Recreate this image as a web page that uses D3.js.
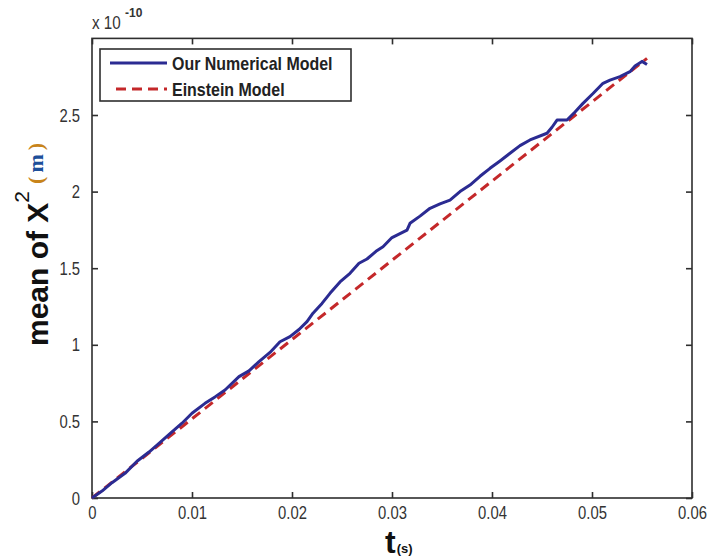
<!DOCTYPE html>
<html><head><meta charset="utf-8">
<script src="https://cdn.jsdelivr.net/npm/d3@7"></script>
<style>body{margin:0;background:#fff}svg{display:block}text{font-family:"Liberation Sans",Arial,sans-serif}</style>
</head><body>
<svg id="c" width="708" height="559"></svg>
<script>
// ---- data (y in units of 1e-10 m^2) ----
const numT = [0,0.0010,0.0020,0.0033,0.0045,0.0057,0.0067,0.0078,0.0090,0.0100,0.0113,0.0123,0.0133,0.0147,0.0157,0.0167,0.0178,0.0188,0.0198,0.0207,0.0215,0.0221,0.0230,0.0238,0.0248,0.0258,0.0267,0.0275,0.0284,0.0291,0.0300,0.0315,0.0318,0.0328,0.0338,0.0348,0.0358,0.0368,0.0378,0.0388,0.0398,0.0408,0.0418,0.0428,0.0438,0.0455,0.0460,0.0465,0.0475,0.0483,0.0491,0.0501,0.0511,0.0518,0.0528,0.0538,0.0543,0.0550,0.0555];
const numY = [0,0.045,0.10,0.161,0.24,0.30,0.357,0.42,0.488,0.553,0.618,0.66,0.705,0.792,0.83,0.890,0.95,1.020,1.053,1.10,1.151,1.206,1.27,1.336,1.41,1.467,1.532,1.56,1.61,1.64,1.70,1.749,1.793,1.84,1.891,1.92,1.945,2.00,2.043,2.10,2.152,2.20,2.250,2.30,2.337,2.381,2.42,2.467,2.467,2.52,2.576,2.64,2.707,2.728,2.750,2.783,2.82,2.85,2.83];
const einT = [0, 0.0555];
const einY = [0, 2.87];
const xTicks = [0,0.01,0.02,0.03,0.04,0.05,0.06];
const xTickLabels = ["0","0.01","0.02","0.03","0.04","0.05","0.06"];
const yTicks = [0,0.5,1,1.5,2,2.5];
const yTickLabels = ["0","0.5","1","1.5","2","2.5"];
const seriesNames = ["Our Numerical Model","Einstein Model"];
const seriesColors = ["#2b2b92","#c4282a"];

const svg = d3.select("#c");
const L=92, R=692, T=38.4, B=498;
const x = d3.scaleLinear().domain([0,0.06]).range([L,R]);
const y = d3.scaleLinear().domain([0,3]).range([B,T]);
const axisCol = "#2e2e2e";

function squeeze(sel, f){ sel.each(function(){ const w=this.getComputedTextLength(); d3.select(this).attr("textLength", w*f).attr("lengthAdjust","spacingAndGlyphs"); }); }

// frame
svg.append("rect").attr("x",L).attr("y",T).attr("width",R-L).attr("height",B-T)
  .attr("fill","none").attr("stroke",axisCol).attr("stroke-width",1.6);

// axes via d3 (ticks inward)
const xa = svg.append("g").attr("transform",`translate(0,${B})`)
  .call(d3.axisBottom(x).tickValues(xTicks).tickFormat((d,i)=>xTickLabels[i]).tickSizeInner(-6).tickSizeOuter(0).tickPadding(8));
const xt = svg.append("g").attr("transform",`translate(0,${T})`)
  .call(d3.axisTop(x).tickValues(xTicks).tickFormat("").tickSizeInner(-6).tickSizeOuter(0));
const ya = svg.append("g").attr("transform",`translate(${L},0)`)
  .call(d3.axisLeft(y).tickValues(yTicks).tickFormat((d,i)=>yTickLabels[i]).tickSizeInner(-6).tickSizeOuter(0).tickPadding(12));
const yr = svg.append("g").attr("transform",`translate(${R},0)`)
  .call(d3.axisRight(y).tickValues(yTicks).tickFormat("").tickSizeInner(-6).tickSizeOuter(0));
[xa,xt,ya,yr].forEach(g=>{ g.select(".domain").remove(); g.selectAll(".tick line").attr("stroke",axisCol).attr("stroke-width",1.6); });
[xa,ya].forEach(g=>{ g.selectAll(".tick text").attr("fill","#333").attr("font-size",19).attr("font-family","Liberation Sans, Arial, sans-serif"); squeeze(g.selectAll(".tick text"),0.78); });
xa.selectAll(".tick text").attr("dy","0.71em");

// exponent
const ex = svg.append("text").attr("x",92).attr("y",29).attr("fill","#333").attr("font-size",19).text("x 10");
squeeze(ex,0.8);
svg.append("text").attr("x",125).attr("y",17).attr("fill","#333").attr("font-size",12).attr("font-weight","bold").text("-10");

// lines
const line = d3.line().x(d=>x(d[0])).y(d=>y(d[1]));
svg.append("path").datum(einT.map((t,i)=>[t,einY[i]])).attr("d",line)
  .attr("fill","none").attr("stroke",seriesColors[1]).attr("stroke-width",3).attr("stroke-dasharray","10,6");
svg.append("path").datum(numT.map((t,i)=>[t,numY[i]])).attr("d",line)
  .attr("fill","none").attr("stroke",seriesColors[0]).attr("stroke-width",3).attr("stroke-linejoin","round");

// legend
const lg = svg.append("g");
lg.append("rect").attr("x",100).attr("y",49).attr("width",251).attr("height",52)
  .attr("fill","#fff").attr("stroke",axisCol).attr("stroke-width",1.6);
const rows=[{y:63,dash:null},{y:89,dash:"10,6"}];
rows.forEach((r,i)=>{
  lg.append("line").attr("x1",i?116:110).attr("x2",167).attr("y1",r.y).attr("y2",r.y)
    .attr("stroke",seriesColors[i]).attr("stroke-width",3).attr("stroke-dasharray",r.dash);
  const t = lg.append("text").attr("x",172).attr("y",r.y+7).attr("font-size",19).attr("font-weight","bold")
    .attr("fill","#222").text(seriesNames[i]);
  squeeze(t,0.84);
});

// y label
const yl = svg.append("text").attr("transform","translate(48,346) rotate(-90)")
  .attr("font-size",30).attr("font-weight","bold").attr("fill","#111");
yl.append("tspan").text("mean of X");
yl.append("tspan").attr("dy",-19).attr("font-size",21).attr("font-weight","normal").text("2");
yl.append("tspan").attr("dy",14).attr("dx",7).attr("font-size",22).attr("font-family","Liberation Serif, Times New Roman, serif").attr("fill","#c8841a").text("(");
yl.append("tspan").attr("font-size",22).attr("font-family","Liberation Serif, Times New Roman, serif").attr("fill","#1d4f9a").attr("dx",4).text("m");
yl.append("tspan").attr("font-size",22).attr("font-family","Liberation Serif, Times New Roman, serif").attr("fill","#c8841a").attr("dx",4).text(")");

// x label
const xl = svg.append("text").attr("x",385).attr("y",553).attr("fill","#111").attr("font-weight","bold");
xl.append("tspan").attr("font-size",32).text("t");
xl.append("tspan").attr("font-size",13).attr("dx",1).text("(s)");
</script>
</body></html>
